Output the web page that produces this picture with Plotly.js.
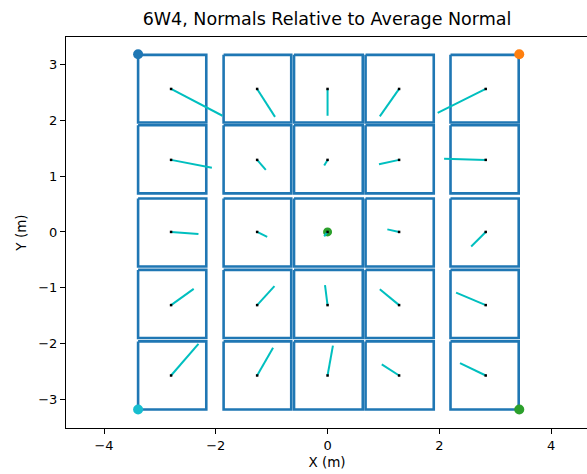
<!DOCTYPE html>
<html>
<head>
<meta charset="utf-8">
<script src="https://cdn.plot.ly/plotly-3.0.1.min.js"></script>
<style>
html,body{margin:0;padding:0;overflow:hidden;background:#fff;}
#chart{width:589px;height:474px;}
</style>
</head>
<body>
<div id="chart"></div>
<script>
// Panel grid edges (m)
const colLeft   = [-3.39, -1.86, -0.60, 0.68, 2.20];
const colRight  = [-2.17, -0.65, 0.63, 1.90, 3.42];
const rowTop    = [3.17, 1.91, 0.60, -0.68, -1.96];
const rowBottom = [1.96, 0.69, -0.62, -1.90, -3.18];

// Panel centres (m)
const centerX = [-2.80, -1.26, 0.0, 1.28, 2.83];
const centerY = [2.56, 1.29, 0.0, -1.31, -2.57];

// Relative normal vectors (scaled, m), row by row from top
const normalDX = [
  [0.92, 0.32, 0.00, -0.345, -0.86],
  [0.73, 0.155, -0.06, -0.36, -0.745],
  [0.49, 0.18, -0.06, -0.21, -0.26],
  [0.405, 0.31, -0.046, -0.345, -0.53],
  [0.49, 0.285, 0.096, -0.31, -0.46]
];
const normalDY = [
  [-0.48, -0.50, -0.48, -0.49, -0.43],
  [-0.14, -0.18, -0.10, -0.08, 0.02],
  [-0.036, -0.09, -0.08, 0.046, -0.26],
  [0.29, 0.34, 0.36, 0.285, 0.225],
  [0.565, 0.495, 0.535, 0.20, 0.22]
];

// Corner reference points
const cornerX = [-3.39, 3.43, -3.39, 3.43];
const cornerY = [3.18, 3.18, -3.18, -3.18];
const cornerColors = ['#1f77b4', '#ff7f0e', '#17becf', '#2ca02c'];
const originX = [0];
const originY = [0];

const traces = [];

// panel outlines
const px = [], py = [];
for (let r = 0; r < 5; r++) {
  for (let c = 0; c < 5; c++) {
    px.push(colLeft[c], colRight[c], colRight[c], colLeft[c], colLeft[c], null);
    py.push(rowTop[r], rowTop[r], rowBottom[r], rowBottom[r], rowTop[r], null);
  }
}
traces.push({x: px, y: py, mode: 'lines', line: {color: '#1f77b4', width: 2.6}, hoverinfo: 'skip'});

// origin marker
traces.push({x: originX, y: originY, mode: 'markers', marker: {color: '#2ca02c', size: 9}, hoverinfo: 'skip'});

// normals
const nx = [], ny = [], cx = [], cy = [];
for (let r = 0; r < 5; r++) {
  for (let c = 0; c < 5; c++) {
    nx.push(centerX[c], centerX[c] + normalDX[r][c], null);
    ny.push(centerY[r], centerY[r] + normalDY[r][c], null);
    cx.push(centerX[c]);
    cy.push(centerY[r]);
  }
}
traces.push({x: nx, y: ny, mode: 'lines', line: {color: '#00bfbf', width: 2}, hoverinfo: 'skip'});
traces.push({x: cx, y: cy, mode: 'markers', marker: {color: '#000000', size: 2.5, symbol: 'square'}, hoverinfo: 'skip'});

// corner markers
traces.push({x: cornerX, y: cornerY, mode: 'markers', marker: {color: cornerColors, size: 10}, hoverinfo: 'skip'});

const axisCommon = {
  showgrid: false, zeroline: false, showline: true, mirror: true,
  linecolor: '#000', linewidth: 1, ticks: 'outside', ticklen: 5, tickwidth: 1, tickcolor: '#000',
  tickfont: {family: 'DejaVu Sans', size: 13, color: '#000'}
};

const layout = {
  width: 589, height: 474,
  margin: {l: 66, r: 1, t: 37, b: 46},
  paper_bgcolor: '#fff', plot_bgcolor: '#fff',
  showlegend: false,
  font: {family: 'DejaVu Sans', color: '#000'},
  title: {text: '6W4, Normals Relative to Average Normal', font: {family: 'DejaVu Sans', size: 17.5, color: '#000'},
          x: 0.5, xref: 'paper', y: 1 - 19/474, yref: 'container', yanchor: 'middle'},
  xaxis: Object.assign({}, axisCommon, {
    range: [-4.68, 4.66], tickvals: [-4, -2, 0, 2, 4],
    title: {text: 'X (m)', font: {family: 'DejaVu Sans', size: 13.5, color: '#000'}, standoff: 5}
  }),
  yaxis: Object.assign({}, axisCommon, {
    range: [-3.51, 3.49], tickvals: [-3, -2, -1, 0, 1, 2, 3],
    title: {text: 'Y (m)', font: {family: 'DejaVu Sans', size: 13.5, color: '#000'}, standoff: 8}
  })
};

Plotly.newPlot('chart', traces, layout, {displayModeBar: false, staticPlot: true});
</script>
</body>
</html>
